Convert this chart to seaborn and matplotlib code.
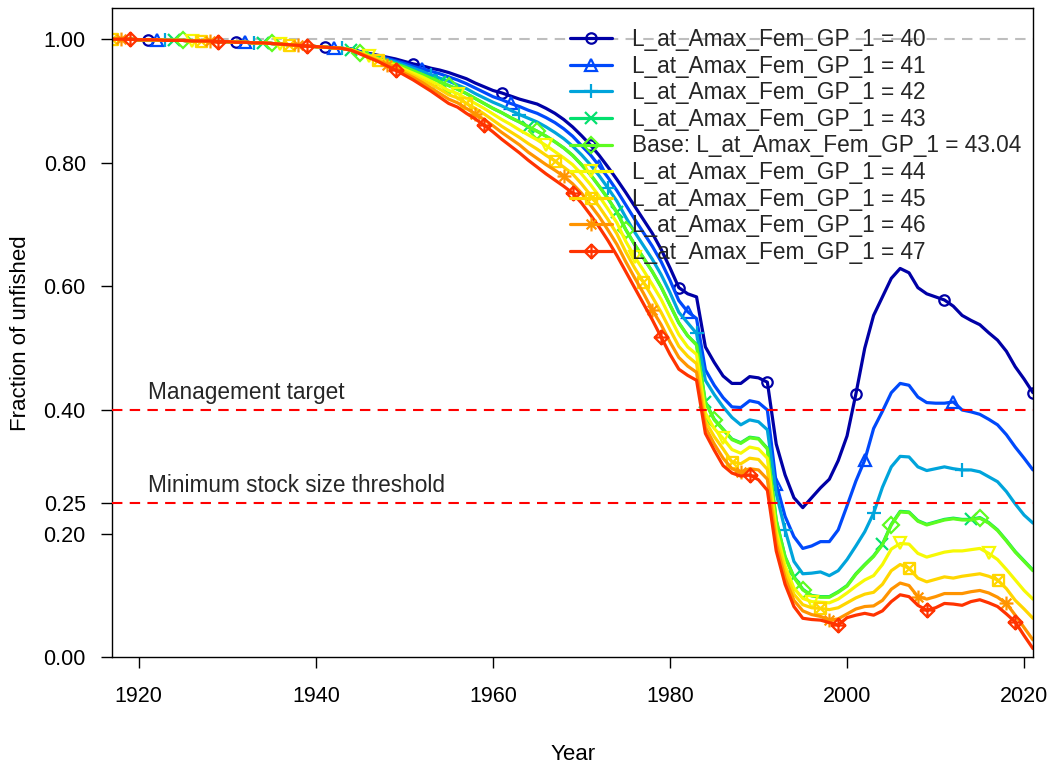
import numpy as np
import pandas as pd
import seaborn as sns
import matplotlib
matplotlib.use("Agg")
import matplotlib.pyplot as plt
from matplotlib.lines import Line2D
from matplotlib.path import Path

# Fraction of unfished spawning output, sensitivity to L_at_Amax_Fem_GP_1
years = list(range(1917, 2022))

# 1917-1943: all runs overlap
early = [1.000, 1.000, 1.000, 0.999, 0.999, 0.999, 0.998, 0.998, 0.998, 0.997,
         0.997, 0.997, 0.996, 0.996, 0.995, 0.995, 0.994, 0.994, 0.993, 0.992,
         0.991, 0.990, 0.989, 0.988, 0.987, 0.986, 0.985]

# 1944-2021 for each run
lat_40 = [.984, .980, .977, .974, .971, .968, .964, .960, .957, .953,
          .950, .946, .941, .936, .929, .923, .917, .913, .908, .903,
          .899, .895, .888, .880, .870, .858, .844, .829, .812, .793,
          .773, .752, .730, .708, .686, .660, .630, .598, .588, .583,
          .502, .477, .455, .443, .443, .454, .452, .445, .345, .295,
          .258, .242, .258, .274, .288, .318, .358, .426, .500, .553,
          .583, .613, .629, .622, .598, .588, .583, .578, .568, .553,
          .545, .538, .525, .513, .495, .470, .450, .428]
lat_41 = [.984, .979, .976, .973, .969, .965, .961, .956, .952, .948,
          .944, .939, .934, .928, .921, .914, .907, .902, .896, .891,
          .885, .880, .873, .865, .855, .843, .828, .813, .795, .776,
          .755, .732, .709, .687, .665, .640, .610, .577, .559, .548,
          .465, .440, .420, .405, .404, .415, .412, .400, .281, .228,
          .195, .176, .180, .187, .187, .206, .245, .285, .319, .370,
          .398, .428, .443, .440, .421, .412, .411, .411, .413, .400,
          .397, .393, .385, .376, .360, .340, .322, .303]
lat_42 = [.983, .979, .975, .971, .967, .963, .958, .953, .948, .942,
          .937, .932, .926, .920, .912, .905, .898, .892, .885, .878,
          .872, .866, .858, .849, .839, .827, .813, .797, .779, .759,
          .738, .712, .688, .666, .644, .619, .590, .558, .541, .524,
          .448, .425, .405, .388, .376, .384, .381, .368, .265, .206,
          .155, .135, .136, .138, .132, .140, .158, .180, .203, .233,
          .275, .308, .325, .324, .308, .302, .305, .308, .305, .303,
          .303, .300, .292, .284, .268, .248, .230, .217]
lat_43 = [.983, .978, .974, .970, .965, .960, .955, .949, .943, .937,
          .931, .925, .919, .912, .904, .896, .888, .881, .873, .866,
          .858, .851, .843, .834, .824, .812, .797, .781, .762, .742,
          .720, .692, .668, .646, .624, .599, .570, .541, .520, .506,
          .413, .385, .369, .353, .347, .356, .354, .338, .222, .163,
          .130, .110, .100, .098, .098, .106, .116, .135, .150, .164,
          .183, .215, .236, .235, .221, .215, .219, .223, .225, .223,
          .223, .226, .218, .206, .189, .171, .156, .141]
lat_base = [.983, .978, .974, .970, .965, .960, .955, .949, .943, .937,
            .931, .925, .919, .912, .904, .896, .888, .881, .873, .866,
            .858, .851, .843, .834, .824, .812, .797, .781, .762, .742,
            .720, .692, .668, .646, .624, .599, .570, .541, .520, .505,
            .412, .384, .368, .352, .346, .355, .353, .337, .221, .162,
            .129, .109, .099, .097, .097, .105, .115, .134, .149, .163,
            .182, .214, .235, .234, .220, .214, .218, .222, .224, .222,
            .222, .225, .217, .205, .188, .170, .155, .140]
lat_44 = [.983, .978, .973, .968, .963, .958, .951, .945, .939, .932,
          .925, .917, .912, .904, .896, .888, .879, .870, .862, .853,
          .845, .837, .828, .818, .808, .797, .782, .765, .746, .725,
          .703, .673, .648, .626, .603, .579, .550, .522, .502, .490,
          .395, .370, .354, .336, .330, .340, .337, .322, .205, .148,
          .112, .095, .090, .089, .088, .094, .104, .115, .125, .132,
          .150, .175, .184, .183, .168, .162, .166, .170, .172, .172,
          .174, .176, .168, .158, .142, .125, .108, .094]
lat_45 = [.983, .977, .972, .967, .961, .955, .948, .941, .934, .927,
          .919, .910, .905, .896, .888, .879, .869, .859, .850, .841,
          .831, .822, .812, .803, .793, .782, .766, .748, .729, .708,
          .685, .656, .630, .607, .583, .558, .530, .503, .487, .475,
          .382, .357, .337, .316, .313, .322, .320, .304, .195, .138,
          .102, .085, .080, .079, .077, .080, .088, .096, .102, .105,
          .118, .140, .150, .144, .128, .122, .126, .130, .128, .131,
          .133, .135, .131, .125, .111, .092, .078, .063]
lat_46 = [.982, .977, .971, .965, .959, .953, .945, .938, .930, .921,
          .912, .903, .897, .888, .879, .870, .860, .849, .839, .829,
          .817, .807, .797, .788, .778, .766, .751, .732, .713, .691,
          .668, .640, .614, .589, .562, .538, .510, .485, .471, .461,
          .372, .345, .322, .305, .299, .305, .303, .288, .184, .128,
          .092, .075, .069, .066, .060, .062, .070, .078, .082, .083,
          .092, .110, .120, .116, .098, .094, .098, .103, .103, .103,
          .106, .108, .104, .097, .087, .068, .048, .028]
lat_47 = [.982, .976, .970, .964, .957, .950, .942, .934, .925, .916,
          .906, .896, .890, .880, .871, .861, .850, .838, .827, .816,
          .804, .793, .782, .772, .762, .751, .735, .716, .696, .674,
          .650, .624, .598, .572, .546, .518, .490, .466, .456, .448,
          .362, .335, .310, .298, .293, .295, .287, .270, .172, .118,
          .082, .063, .061, .060, .056, .052, .064, .068, .071, .068,
          .075, .090, .101, .098, .084, .076, .080, .087, .086, .084,
          .090, .093, .088, .082, .070, .057, .035, .014]

labels = ["L_at_Amax_Fem_GP_1 = 40", "L_at_Amax_Fem_GP_1 = 41",
          "L_at_Amax_Fem_GP_1 = 42", "L_at_Amax_Fem_GP_1 = 43",
          "Base: L_at_Amax_Fem_GP_1 = 43.04", "L_at_Amax_Fem_GP_1 = 44",
          "L_at_Amax_Fem_GP_1 = 45", "L_at_Amax_Fem_GP_1 = 46",
          "L_at_Amax_Fem_GP_1 = 47"]
runs = [lat_40, lat_41, lat_42, lat_43, lat_base, lat_44, lat_45, lat_46, lat_47]
colors = ["#0000A6", "#0049FB", "#00A4DB", "#03E06E", "#5DFC20",
          "#F6F905", "#FFD600", "#FF9400", "#FF3300"]

# R-like point characters
M, L, C = Path.MOVETO, Path.LINETO, Path.CLOSEPOLY
box_x = Path([(-1, -1), (1, -1), (1, 1), (-1, 1), (-1, -1),
              (-1, -1), (1, 1), (-1, 1), (1, -1)],
             [M, L, L, L, C, M, L, M, L])
star = Path([(-1, 0), (1, 0), (0, -1), (0, 1),
             (-.7, -.7), (.7, .7), (-.7, .7), (.7, -.7)],
            [M, L, M, L, M, L, M, L])
dia_plus = Path([(0, -1), (1, 0), (0, 1), (-1, 0), (0, -1),
                 (-1, 0), (1, 0), (0, -1), (0, 1)],
                [M, L, L, L, C, M, L, M, L])
markers = ["o", "^", "+", "x", "D", "v", box_x, star, dia_plus]
msizes = [7.5, 9, 10, 8.5, 8, 9, 8, 10, 10]

sns.set_theme(style="ticks")
plt.rcParams["font.family"] = ["Liberation Sans", "DejaVu Sans"]

fig = plt.figure(figsize=(10.55, 7.65), dpi=100)
ax = fig.add_axes([0.1064, 0.1409, 0.8727, 0.8483])

ax.axhline(1.0, color="#bebebe", lw=1.5, ls=(0, (5, 3.5)), zorder=1)

handles = []
for i, vals in enumerate(runs):
    df = pd.DataFrame({"Year": years, "frac": early + vals})
    sns.lineplot(data=df, x="Year", y="frac", ax=ax, color=colors[i], lw=2.3,
                 marker=markers[i], ms=msizes[i], mfc="none",
                 mec=colors[i], mew=1.6, markevery=((4 + i) % 10, 10),
                 zorder=2 + i * 0.01)
    handles.append(Line2D([], [], color=colors[i], lw=2.3, marker=markers[i],
                          ms=msizes[i], mfc="none", mec=colors[i], mew=1.6))

for lvl, txt in [(0.40, "Management target"), (0.25, "Minimum stock size threshold")]:
    ax.axhline(lvl, color="red", lw=1.5, ls=(0, (5, 3.5)), zorder=3)
    ax.text(1921, lvl + 0.0175, txt, fontsize=16.3, va="baseline", ha="left")

ax.set_xlim(1917, 2021)
ax.set_ylim(0, 1.05)
ax.set_xticks([1920, 1940, 1960, 1980, 2000, 2020])
yt = [0, 0.2, 0.25, 0.4, 0.6, 0.8, 1.0]
ax.set_yticks(yt)
ax.set_yticklabels([f"{v:.2f}" for v in yt])
ax.tick_params(axis="both", direction="out", length=8, width=1, color="black",
               labelsize=15.5, labelcolor="black")
ax.tick_params(axis="x", pad=13)
ax.tick_params(axis="y", pad=11)
for sp in ax.spines.values():
    sp.set_visible(True)
    sp.set_color("black")
    sp.set_linewidth(1.0)

ax.set_xlabel("Year", fontsize=16, color="black")
ax.set_ylabel("Fraction of unfished", fontsize=16, color="black")
ax.xaxis.set_label_coords(0.5, -0.133)
ax.yaxis.set_label_coords(-0.088, 0.5)

leg = ax.legend(handles, labels, loc="upper left", bbox_to_anchor=(570 / 1055, 1 - 28 / 765),
                bbox_transform=fig.transFigure, frameon=False, fontsize=16.3,
                handlelength=1.85, handletextpad=0.9, labelspacing=0.16,
                borderpad=0, borderaxespad=0, numpoints=1)

fig.savefig("out.png", dpi=100)
